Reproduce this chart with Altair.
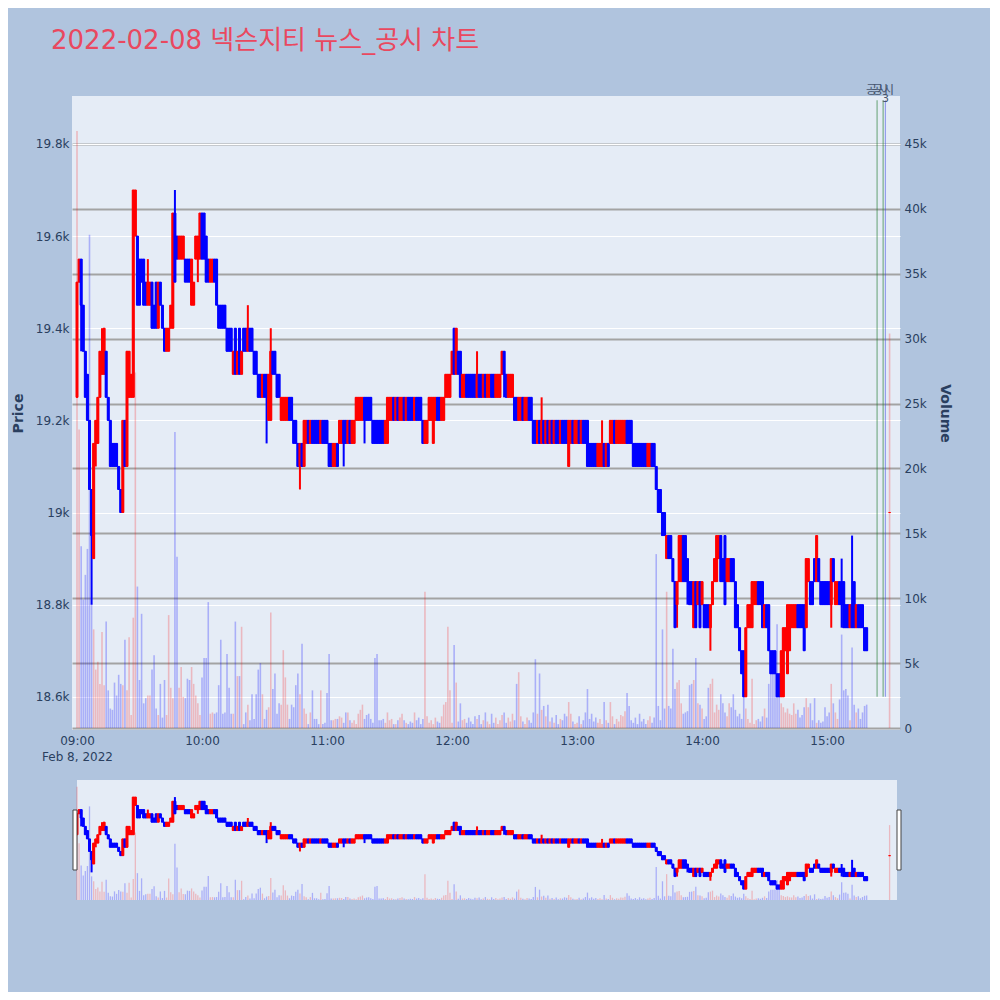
import altair as alt
import pandas as pd

# ---------------- data ----------------
# one candle per minute from 09:00 (minute 0) to 15:19 (minute 379), plus the 15:30 close (minute 390)
opens = [
    # 09:00 - 10:17
    19250, 19500, 19550, 19450, 19350, 19300, 19200, 19050, 18900, 19150,
    19150, 19250, 19300, 19300, 19350, 19250, 19200, 19150, 19150, 19150,
    19100, 19050, 19000, 19200, 19100, 19250, 19250, 19250, 19600, 19600,
    19550, 19550, 19550, 19500, 19450, 19450, 19500, 19450, 19500, 19400,
    19500, 19450, 19400, 19350, 19350, 19400, 19400, 19650, 19600, 19550,
    19550, 19550, 19550, 19550, 19550, 19450, 19450, 19550, 19550, 19550,
    19650, 19650, 19600, 19550, 19500, 19500, 19550, 19550, 19450, 19450,
    19450, 19450, 19400, 19400, 19400, 19300, 19400, 19300,
    # 10:18 - 11:39
    19400, 19300, 19400, 19400, 19350, 19400, 19400, 19350, 19350, 19300,
    19300, 19250, 19300, 19300, 19200, 19200, 19350, 19350, 19300, 19300,
    19200, 19200, 19200, 19200, 19250, 19250, 19200, 19200, 19150, 19100,
    19150, 19100, 19150, 19200, 19150, 19200, 19200, 19200, 19200, 19150,
    19200, 19200, 19200, 19150, 19150, 19100, 19100, 19150, 19150, 19150,
    19200, 19200, 19150, 19200, 19150, 19150, 19200, 19200, 19200, 19200,
    19250, 19250, 19250, 19250, 19200, 19200, 19200, 19200, 19200, 19200,
    19150, 19150, 19200, 19200, 19250, 19200, 19250, 19200, 19200, 19250,
    19200, 19250,
    # 11:40 - 12:59
    19250, 19250, 19200, 19250, 19250, 19250, 19200, 19150, 19150, 19200,
    19200, 19150, 19200, 19250, 19250, 19200, 19200, 19250, 19250, 19250,
    19300, 19400, 19300, 19350, 19350, 19250, 19250, 19300, 19300, 19300,
    19300, 19300, 19250, 19300, 19300, 19250, 19300, 19250, 19250, 19300,
    19300, 19250, 19250, 19250, 19300, 19350, 19300, 19250, 19250, 19250,
    19250, 19250, 19200, 19200, 19250, 19200, 19200, 19250, 19250, 19200,
    19200, 19150, 19200, 19150, 19200, 19150, 19200, 19150, 19200, 19150,
    19200, 19200, 19150, 19200, 19200, 19200, 19100, 19150, 19200, 19150,
    # 13:00 - 14:19
    19150, 19200, 19150, 19200, 19200, 19200, 19150, 19150, 19150, 19150,
    19100, 19100, 19100, 19150, 19100, 19150, 19150, 19150, 19200, 19150,
    19150, 19150, 19150, 19150, 19200, 19200, 19200, 19150, 19150, 19150,
    19150, 19150, 19150, 19150, 19100, 19100, 19150, 19150, 19100, 19050,
    19050, 19000, 19000, 18900, 18950, 18950, 18900, 18850, 18800, 18850,
    18850, 18950, 18950, 18900, 18850, 18850, 18750, 18850, 18800, 18850,
    18800, 18800, 18800, 18800, 18750, 18800, 18850, 18850, 18900, 18950,
    18900, 18950, 18850, 18850, 18900, 18900, 18850, 18800, 18750, 18700,
    # 14:20 - 15:19
    18700, 18600, 18750, 18750, 18750, 18800, 18800, 18850, 18850, 18850,
    18750, 18800, 18800, 18700, 18700, 18700, 18650, 18650, 18600, 18600,
    18700, 18650, 18700, 18750, 18750, 18750, 18800, 18800, 18800, 18800,
    18750, 18850, 18850, 18850, 18900, 18850, 18900, 18850, 18850, 18850,
    18850, 18850, 18800, 18900, 18800, 18800, 18850, 18850, 18850, 18800,
    18800, 18750, 18800, 18850, 18750, 18800, 18800, 18800, 18750, 18750,
    # 15:30 close
    19000,
]
closes = [
    19500, 19550, 19450, 19350, 19250, 19200, 19050, 18950, 19150, 19200,
    19250, 19350, 19350, 19400, 19250, 19200, 19100, 19100, 19100, 19100,
    19050, 19000, 19200, 19100, 19350, 19350, 19300, 19700, 19700, 19450,
    19450, 19500, 19450, 19450, 19500, 19500, 19400, 19400, 19400, 19500,
    19450, 19400, 19350, 19400, 19400, 19450, 19650, 19500, 19550, 19600,
    19600, 19600, 19500, 19500, 19500, 19550, 19500, 19600, 19600, 19650,
    19550, 19550, 19500, 19500, 19550, 19550, 19500, 19450, 19400, 19400,
    19400, 19400, 19350, 19350, 19350, 19350, 19300, 19350,
    19300, 19350, 19350, 19350, 19400, 19350, 19350, 19300, 19300, 19250,
    19250, 19300, 19250, 19250, 19300, 19350, 19300, 19300, 19250, 19250,
    19250, 19250, 19250, 19250, 19200, 19200, 19150, 19150, 19100, 19150,
    19100, 19200, 19200, 19150, 19200, 19150, 19150, 19150, 19150, 19200,
    19150, 19150, 19150, 19100, 19100, 19150, 19150, 19100, 19200, 19200,
    19150, 19150, 19200, 19150, 19200, 19200, 19250, 19250, 19250, 19250,
    19200, 19200, 19200, 19200, 19150, 19150, 19150, 19150, 19150, 19150,
    19200, 19250, 19250, 19250, 19200, 19250, 19200, 19250, 19250, 19200,
    19250, 19200,
    19200, 19200, 19250, 19200, 19200, 19200, 19150, 19200, 19200, 19250,
    19250, 19250, 19250, 19200, 19200, 19250, 19250, 19300, 19300, 19300,
    19350, 19300, 19400, 19300, 19250, 19300, 19300, 19250, 19250, 19250,
    19250, 19250, 19300, 19250, 19250, 19300, 19250, 19300, 19300, 19250,
    19250, 19300, 19300, 19300, 19350, 19300, 19250, 19300, 19300, 19300,
    19200, 19200, 19250, 19250, 19200, 19250, 19250, 19200, 19200, 19150,
    19150, 19200, 19150, 19200, 19150, 19200, 19150, 19200, 19150, 19200,
    19150, 19150, 19200, 19150, 19150, 19150, 19200, 19200, 19150, 19200,
    19200, 19150, 19200, 19150, 19150, 19100, 19100, 19100, 19100, 19100,
    19150, 19150, 19150, 19100, 19150, 19100, 19200, 19200, 19150, 19200,
    19200, 19200, 19200, 19200, 19150, 19150, 19150, 19100, 19100, 19100,
    19100, 19100, 19100, 19100, 19150, 19150, 19100, 19100, 19050, 19000,
    19000, 18950, 18950, 18950, 18900, 18900, 18850, 18750, 18850, 18950,
    18950, 18850, 18850, 18850, 18800, 18800, 18850, 18750, 18850, 18750,
    18850, 18750, 18750, 18750, 18800, 18850, 18900, 18950, 18950, 18850,
    18850, 18800, 18900, 18900, 18850, 18850, 18750, 18750, 18700, 18650,
    18600, 18750, 18800, 18800, 18850, 18850, 18850, 18800, 18800, 18750,
    18800, 18750, 18700, 18650, 18650, 18650, 18600, 18600, 18700, 18750,
    18750, 18800, 18800, 18800, 18800, 18800, 18750, 18750, 18750, 18700,
    18900, 18900, 18800, 18800, 18850, 18950, 18850, 18800, 18800, 18800,
    18800, 18800, 18900, 18850, 18850, 18850, 18800, 18800, 18750, 18750,
    18750, 18800, 18750, 18750, 18800, 18750, 18750, 18750, 18700, 18700,
    19000,
]
# wicks that reach past the candle body (minute -> price)
wick_high = {12: 19400, 34: 19550, 47: 19700, 82: 19450, 93: 19400, 192: 19350,
             223: 19250, 252: 19200, 367: 18900, 372: 18950}
wick_low = {2: 19350, 7: 18800, 9: 19100, 58: 19500, 91: 19150, 107: 19050,
            128: 19100, 138: 19150, 205: 19250, 236: 19100, 288: 18750,
            293: 18800, 304: 18700, 362: 18750, 367: 18750}
volumes = [
    46000, 23000, 14000, 9900, 11800, 13800, 38000, 9600, 7600, 4500,
    5100, 3400, 7400, 3300, 8200, 2900, 1500, 1400, 3500, 2500,
    4100, 3400, 3300, 6800, 2900, 7000, 1000, 8500, 27400, 10900,
    3700, 8800, 1900, 2300, 2500, 2500, 4500, 5600, 1500, 1000,
    3400, 800, 3700, 1000, 8700, 3100, 2300, 22800, 13200, 3100,
    4700, 2400, 2300, 3800, 3700, 4700, 3400, 2500, 1900, 1000,
    3900, 5400, 5400, 9700, 1100, 1200, 1100, 1200, 3300, 6800,
    1100, 1200, 5700, 3100, 1100, 1100, 8200, 4000,
    4000, 7800, 300, 1200, 1800, 600, 2600, 700, 2600, 4500,
    5000, 2600, 700, 1400, 1600, 8900, 3000, 4200, 1100, 1900,
    1800, 6000, 3900, 1800, 700, 1800, 1600, 3300, 4200, 2600,
    6500, 1500, 1100, 300, 1200, 2900, 700, 700, 300, 2900,
    300, 400, 2700, 5700, 600, 600, 700, 700, 900, 800,
    400, 1200, 1200, 600, 400, 600, 300, 1100, 1400, 1800,
    700, 1000, 1100, 700, 400, 5400, 5700, 600, 600, 700,
    400, 1200, 600, 700, 300, 300, 600, 800, 1100, 600,
    400, 300,
    500, 400, 1200, 600, 800, 300, 700, 10500, 900, 400,
    600, 300, 800, 500, 400, 900, 1800, 2000, 7800, 2900,
    400, 6400, 3500, 500, 1900, 600, 700, 400, 800, 500,
    300, 900, 700, 1000, 300, 600, 1200, 500, 300, 1100,
    400, 800, 300, 600, 1000, 1200, 400, 800, 500, 1100,
    600, 3400, 4300, 900, 500, 300, 800, 600, 400, 1200,
    5300, 1100, 4200, 1400, 1700, 900, 1800, 500, 800, 400,
    1000, 300, 700, 600, 1100, 900, 2000, 1100, 500, 300,
    400, 900, 300, 600, 1200, 3000, 700, 1100, 500, 800,
    400, 700, 300, 2000, 600, 400, 2000, 900, 300, 700,
    500, 1000, 900, 1300, 2700, 1700, 600, 400, 800, 300,
    1100, 500, 700, 300, 600, 900, 400, 800, 13400, 1700,
    600, 7600, 1500, 10500, 1700, 1500, 6100, 3000, 3500, 3700,
    1900, 1100, 1200, 1300, 3300, 3400, 3700, 5400, 1900, 1800,
    1500, 700, 900, 3100, 3400, 3800, 1200, 1800, 1400, 2600,
    1900, 1200, 900, 1900, 1600, 2600, 1400, 900, 1100, 700,
    2500, 1500, 700, 400, 3800, 300, 600, 700, 500, 900,
    1500, 800, 3400, 4200, 4200, 4300, 8000, 4200, 1900, 1600,
    1200, 1500, 1100, 1000, 1900, 1100, 1400, 800, 1000, 1600,
    2300, 1600, 1900, 600, 2300, 400, 600, 400, 500, 1600,
    900, 1200, 3400, 1900, 1200, 700, 2200, 7200, 2900, 3000,
    2500, 600, 6200, 1800, 1200, 1500, 700, 1200, 1700, 1800,
    30400,
]
minutes = list(range(380)) + [390]
hour_labels = ["09:00", "10:00", "11:00", "12:00", "13:00", "14:00", "15:00"]
date_label = "Feb 8, 2022"

# disclosure markers (공시)
disc_minutes = [384.0, 386.9, 388.0]
disc_kinds = ["green", "green", "blue"]
disc_labels = ["공시", "공시", "3"]
disc_low = 18600
disc_high = 19895

# ---------------- frame ----------------
df = pd.DataFrame({"minute": minutes, "open": opens, "close": closes, "volume": volumes})
df["high"] = [max(o, c, wick_high.get(m, 0)) for m, o, c in zip(minutes, opens, closes)]
df["low"] = [min(o, c, wick_low.get(m, 10 ** 9)) for m, o, c in zip(minutes, opens, closes)]
df["dir"] = ["up" if c >= o else "down" for o, c in zip(opens, closes)]

disc = pd.DataFrame({"minute": disc_minutes, "kind": disc_kinds, "label": disc_labels,
                     "lo": disc_low, "hi": disc_high})

FONT = "DejaVu Sans, Noto Sans CJK KR"
AXC = "#2a3f5f"

x_scale = alt.Scale(domain=[-2.4, 395], nice=False, zero=False, padding=0)
price_scale = alt.Scale(domain=[18528, 19904], nice=False, zero=False)
vol_scale = alt.Scale(domain=[-154, 48698], nice=False, zero=False)
price_scale_s = alt.Scale(domain=[18470, 19904], nice=False, zero=False)
vol_scale_s = alt.Scale(domain=[0, 48700], nice=False, zero=False)
candle_colors = alt.Scale(domain=["up", "down"], range=["#FF0000", "#0000FF"])
vol_colors = alt.Scale(domain=["up", "down"], range=["rgba(255,0,0,0.22)", "rgba(0,0,255,0.26)"])

x_axis = alt.Axis(values=[0, 60, 120, 180, 240, 300, 360],
                  labelExpr=f"datum.value == 0 ? ['{hour_labels[0]}', '{date_label}'] : {hour_labels}[datum.value / 60]",
                  grid=False, domain=False, ticks=False, labelPadding=5, title=None,
                  labelFlush=False, labelLineHeight=16, labelFont=FONT, labelFontSize=12,
                  labelColor=AXC)
price_axis = alt.Axis(orient="left", values=list(range(18600, 19801, 200)),
                      labelExpr="datum.value / 1000 + 'k'", grid=True, gridColor="#FFFFFF",
                      gridWidth=1, domain=False, ticks=False, labelPadding=3,
                      title="Price", titlePadding=10, titleFont=FONT, titleFontSize=14,
                      titleFontWeight="bold", titleColor=AXC, labelFont=FONT,
                      labelFontSize=12, labelColor=AXC)
vol_axis = alt.Axis(orient="right", values=list(range(0, 45001, 5000)),
                    labelExpr="datum.value == 0 ? '0' : datum.value / 1000 + 'k'",
                    grid=True, gridColor="#A3A3A3", gridWidth=2, domain=False, ticks=False,
                    labelPadding=4, title="Volume", titlePadding=11, titleFont=FONT,
                    titleFontSize=14, titleFontWeight="bold", titleColor=AXC,
                    labelFont=FONT, labelFontSize=12, labelColor=AXC)

base = alt.Chart(df)
X = alt.X("minute:Q", scale=x_scale, axis=x_axis)

vol = base.mark_bar(size=1.6).encode(
    x=X,
    y=alt.Y("volume:Q", scale=vol_scale, axis=vol_axis, stack=None),
    color=alt.Color("dir:N", scale=vol_colors, legend=None),
)
wick = base.mark_rule(strokeWidth=2).encode(
    x=X,
    y=alt.Y("low:Q", scale=price_scale, axis=price_axis),
    y2="high:Q",
    color=alt.Color("dir:N", scale=candle_colors, legend=None),
)
body = base.mark_bar(size=2, strokeWidth=1).encode(
    x=X,
    y=alt.Y("open:Q", scale=price_scale, axis=price_axis),
    y2="close:Q",
    color=alt.Color("dir:N", scale=candle_colors, legend=None),
    stroke=alt.Stroke("dir:N", scale=candle_colors, legend=None),
)
disc_base = alt.Chart(disc)
disc_green = disc_base.transform_filter("datum.kind == 'green'").mark_rule(
    color="#1f7a2f", strokeWidth=1.2, opacity=0.55).encode(
    x=X, y=alt.Y("lo:Q", scale=price_scale, axis=price_axis), y2="hi:Q")
disc_blue = disc_base.transform_filter("datum.kind == 'blue'").mark_rule(
    color="#3040e0", strokeWidth=1.2, opacity=0.45).encode(
    x=X, y=alt.Y("lo:Q", scale=price_scale, axis=price_axis), y2="hi:Q")
disc_text = disc_base.transform_filter("datum.label != '3'").mark_text(
    font=FONT, fontSize=12, color="#46546e", baseline="middle").encode(
    x=X, y=alt.value(-6), text="label:N")
disc_num = disc_base.transform_filter("datum.label == '3'").mark_text(
    font=FONT, fontSize=11, color="#46546e", baseline="middle").encode(
    x=X, y=alt.value(3), text="label:N")

price_layer = alt.layer(wick, body, disc_green, disc_blue)
main = alt.layer(vol, price_layer, disc_text, disc_num).resolve_scale(
    y="independent", color="independent", stroke="independent"
).properties(
    width=828, height=634,
    view=alt.ViewBackground(fill="#E5ECF6", strokeWidth=0),
    title=alt.TitleParams(text="2022-02-08 넥슨지티 뉴스_공시 차트", anchor="start",
                          frame="group", dx=-21, offset=9, fontSize=26, font=FONT,
                          fontWeight="normal", color="#E9485F", baseline="alphabetic"),
)

# ---------------- range slider ----------------
XS = alt.X("minute:Q", scale=x_scale, axis=None)
one = alt.Chart(pd.DataFrame({"k": [0]}))
s_bg = one.mark_rect(fill="#E5ECF6").encode(
    x=alt.value(5), x2=alt.value(825), y=alt.value(0), y2=alt.value(120))
s_vol = base.mark_bar(size=1.3).encode(
    x=XS, y=alt.Y("volume:Q", scale=vol_scale_s, axis=None, stack=None),
    color=alt.Color("dir:N", scale=vol_colors, legend=None))
s_wick = base.mark_rule(strokeWidth=2).encode(
    x=XS, y=alt.Y("low:Q", scale=price_scale_s, axis=None), y2="high:Q",
    color=alt.Color("dir:N", scale=candle_colors, legend=None))
s_body = base.mark_bar(size=2, strokeWidth=1).encode(
    x=XS, y=alt.Y("open:Q", scale=price_scale_s, axis=None), y2="close:Q",
    color=alt.Color("dir:N", scale=candle_colors, legend=None),
    stroke=alt.Stroke("dir:N", scale=candle_colors, legend=None))
h_left = one.mark_rect(fill="#FFFFFF", stroke="#444444", strokeWidth=1).encode(
    x=alt.value(1), x2=alt.value(5), y=alt.value(30), y2=alt.value(90))
h_right = one.mark_rect(fill="#FFFFFF", stroke="#444444", strokeWidth=1).encode(
    x=alt.value(825), x2=alt.value(829), y=alt.value(30), y2=alt.value(90))

slider = alt.layer(s_bg, s_vol, alt.layer(s_wick, s_body), h_left, h_right).resolve_scale(
    y="independent", color="independent", stroke="independent"
).properties(width=828, height=120, view=alt.ViewBackground(strokeWidth=0))

chart = alt.vconcat(main, slider, spacing=50, bounds="flush").properties(
    padding={"left": 3, "top": 20, "right": 38, "bottom": 92},
    background="#B0C4DE",
).configure_view(strokeWidth=0)

chart.save("out.html", embed_options={"renderer": "svg", "actions": False})
